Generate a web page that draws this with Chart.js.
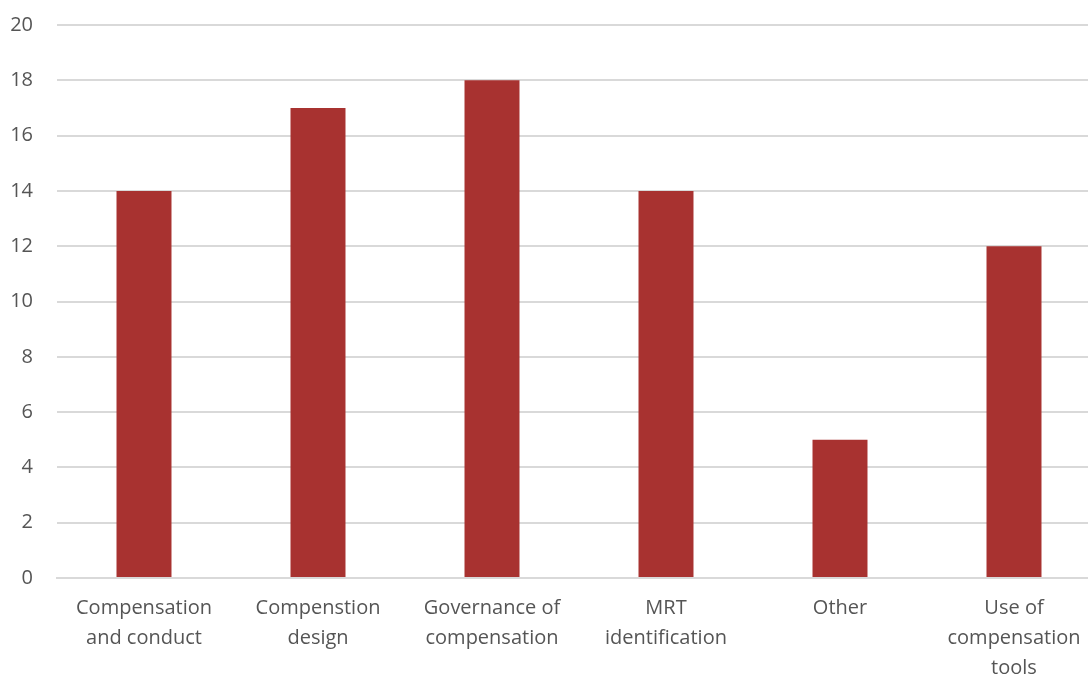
<!DOCTYPE html>
<html>
<head>
<meta charset="utf-8">
<script src="https://cdn.jsdelivr.net/npm/chart.js@4/dist/chart.umd.min.js"></script>
<style>
html,body{margin:0;padding:0;overflow:hidden;background:#fff;}
#wrap{position:absolute;left:0;top:0;width:1101px;height:691px;}
</style>
</head>
<body>
<div id="wrap"><canvas id="c"></canvas></div>
<script>
const categories = [
  ["Compensation", "and conduct"],
  ["Compenstion", "design"],
  ["Governance of", "compensation"],
  ["MRT", "identification"],
  ["Other"],
  ["Use of", "compensation", "tools"]
];
const values = [14, 17, 18, 14, 5, 12];
const yTicks = [0, 2, 4, 6, 8, 10, 12, 14, 16, 18, 20];

const textColor = '#555555';
const fontFamily = "'Open Sans', 'Liberation Sans', sans-serif";

new Chart(document.getElementById('c'), {
  type: 'bar',
  data: {
    labels: categories,
    datasets: [{
      data: values,
      backgroundColor: '#A83230',
      borderWidth: 0,
      barPercentage: 0.316,
      categoryPercentage: 1.0
    }]
  },
  options: {
    responsive: true,
    maintainAspectRatio: false,
    animation: false,
    layout: { padding: { top: 25, left: 0, right: 0, bottom: 0 } },
    plugins: { legend: { display: false }, tooltip: { enabled: false } },
    scales: {
      x: {
        grid: { display: false },
        border: { display: true, color: '#d9d9d9', width: 2 },
        afterFit: (axis) => { axis.paddingLeft = 0; axis.paddingRight = 0; axis.height = 113; },
        ticks: {
          color: textColor,
          font: { family: fontFamily, size: 20, lineHeight: 1.5 },
          maxRotation: 0,
          autoSkip: false,
          padding: 7
        }
      },
      y: {
        min: 0,
        max: 20,
        afterBuildTicks: (axis) => { axis.ticks = yTicks.map(v => ({ value: v })); },
        afterFit: (axis) => { axis.paddingTop = 0; axis.paddingBottom = 0; axis.width = 57; },
        grid: { color: '#d9d9d9', lineWidth: 2, drawTicks: false },
        border: { display: false },
        ticks: {
          color: textColor,
          font: { family: fontFamily, size: 20 },
          padding: 24
        }
      }
    }
  }
});
</script>
</body>
</html>
